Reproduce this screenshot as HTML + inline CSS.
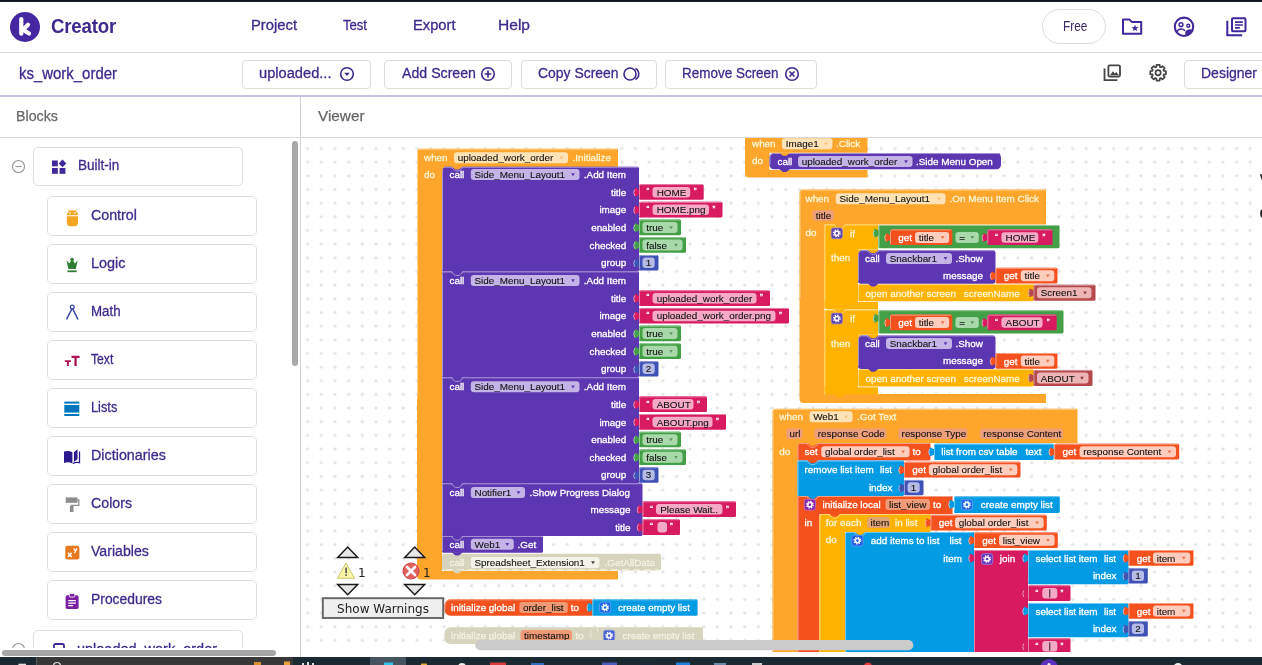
<!DOCTYPE html>
<html lang="en">
<head>
<meta charset="utf-8">
<title>Kodular Creator</title>
<style>
html,body{margin:0;padding:0}
body{width:1262px;height:665px;overflow:hidden;position:relative;background:#fff;font-family:"Liberation Sans",sans-serif;color:#4527A0}
.abs{position:absolute}
#topstrip{left:0;top:0;width:1262px;height:2px;background:linear-gradient(#0b0f15,#1d232c)}
#topstrip2{left:0;top:2px;width:1262px;height:1px;background:#9a9ea6}
#hdr{left:0;top:3px;width:1262px;height:49px;border-bottom:1px solid #dcdcdc;background:#fff}
#logo{left:10px;top:11.700px;width:30px;height:30px;border-radius:50%;background:#4527A0}
#brand{left:50.500px;top:14px;font-size:20px;font-weight:bold;color:#3f2a8c;letter-spacing:-.2px;line-height:24px}
.menu{top:16.4px;font-size:13.8px;line-height:20px;color:#3f2a8c;-webkit-text-stroke:.3px #3f2a8c}
#bar2{left:0;top:53px;width:1262px;height:41px;background:#fff}
#bar2b{left:0;top:94.800px;width:1262px;height:2px;background:#c5c1de;z-index:3}
.btn{top:59.5px;height:29px;border:1px solid #dedede;border-radius:4px;box-sizing:border-box;background:#fff;font-size:15.2px;line-height:28px;color:#3f2a8c;white-space:nowrap;-webkit-text-stroke:.3px #3f2a8c}
.btn span{position:absolute;top:-1.900px}
#proj{left:18.5px;top:62.600px;font-size:16.2px;line-height:20px;color:#3f2a8c;-webkit-text-stroke:.3px #3f2a8c}
#panehdr{left:0;top:96px;width:1262px;height:41px;border-bottom:1px solid #dadada;background:#fff}
#vdiv{left:300px;top:96px;width:1px;height:561px;background:#d2d2d2}
.ph{top:105.600px;font-size:15.2px;line-height:20px;color:#666;-webkit-text-stroke:.25px #666}
#side{left:0;top:138px;width:300px;height:510px;overflow:hidden}
.cat{position:absolute;left:47px;width:210px;height:39.4px;border:1px solid #dfdfdf;border-radius:5px;box-sizing:border-box;background:#fff}
.fit{display:inline-block;transform-origin:0 50%;white-space:nowrap}
.cat span{position:absolute;left:43px;top:7.500px;font-size:15.2px;line-height:20px;color:#3f2a8c;white-space:nowrap;-webkit-text-stroke:.3px #3f2a8c}
.cat svg{position:absolute;left:16px;top:11px}
#ws{left:301px;top:138px;width:961px;height:514px;overflow:hidden}
#task{left:0;top:656.800px;width:1262px;height:8.200px;background:#1b2933}
</style>
</head>
<body>
<div class="abs" id="hdr"></div>
<div class="abs" id="topstrip"></div>
<div class="abs" id="logo"><svg width="30" height="30" viewBox="10 11.700 30 30"><g fill="none" stroke="#fff" stroke-width="4.200" stroke-linecap="round" stroke-linejoin="round"><path d="M21.300,18.700 V33.400"/><path d="M28,24.500 L23,29.500 L29,33.300"/></g></svg></div>
<div class="abs" id="brand"><span class="fit" id="f_brand" style="transform:scaleX(0.9321)">Creator</span></div>
<div class="abs menu" style="left:251px"><span class="fit" id="f_project" style="transform:scaleX(1.0709)">Project</span></div>
<div class="abs menu" style="left:343px"><span class="fit" id="f_test" style="transform:scaleX(0.9481)">Test</span></div>
<div class="abs menu" style="left:413px"><span class="fit" id="f_export" style="transform:scaleX(1.0658)">Export</span></div>
<div class="abs menu" style="left:497.5px"><span class="fit" id="f_help" style="transform:scaleX(1.1271)">Help</span></div>
<div class="abs" style="left:1042.400px;top:9px;width:63.400px;height:35px;box-sizing:border-box;border:1px solid #dcdcdc;border-radius:18px;font-size:14.5px;line-height:33px;color:#3a2a6a"><span class="fit" id="f_free" style="position:absolute;left:19.6px;top:0;transform:scaleX(0.8180)">Free</span></div>
<!-- header icons -->
<svg class="abs" style="left:1116px;top:12px" width="140" height="30" viewBox="1116 12 140 30">
<path d="M1123,19.6 h6.6 l2.2,2.3 h9.4 v11.8 h-18.2 z" fill="none" stroke="#40289a" stroke-width="2" stroke-linejoin="round"/>
<polygon points="1135.00,24.60 1135.91,27.05 1138.52,27.16 1136.47,28.78 1137.17,31.29 1135.00,29.85 1132.83,31.29 1133.53,28.78 1131.48,27.16 1134.09,27.05" fill="#40289a"/>
<circle cx="1184" cy="26.8" r="9.2" fill="none" stroke="#40289a" stroke-width="2.1"/>
<circle cx="1181" cy="24.7" r="1.9" fill="none" stroke="#40289a" stroke-width="1.5"/>
<circle cx="1188.3" cy="25.7" r="1.5" fill="none" stroke="#40289a" stroke-width="1.4"/>
<path d="M1176.6,32.6 c1,-2.6 3,-3.5 4.6,-3.5 c1.400,0 2.800,.5 3.900,1.700" fill="none" stroke="#40289a" stroke-width="1.5"/>
<path d="M1185.300,36 v-4.200 c1.300,-2.600 4.800,-3.300 7.300,-2 c-.8,3 -3.500,5.600 -7.300,6.200 z" fill="#40289a"/>
<rect x="1232" y="18.300" width="13.500" height="13" rx="1" fill="none" stroke="#40289a" stroke-width="2"/>
<path d="M1235,22.100 h7.800 M1235,25 h7.800 M1235,27.900 h4.800" stroke="#40289a" stroke-width="1.600"/>
<path d="M1227.300,20.700 V35.300 H1242.200" fill="none" stroke="#40289a" stroke-width="2"/>
</svg>
<div class="abs" id="bar2"></div><div class="abs" id="bar2b"></div>
<div class="abs" id="proj"><span class="fit" id="f_proj" style="transform:scaleX(0.9230)">ks_work_order</span></div>
<div class="abs btn" style="left:242px;width:129px"><span class="fit" id="f_upl" style="left:16px;transform:scaleX(0.9645)">uploaded...</span><svg class="abs" style="left:96px;top:5px" width="16" height="16" viewBox="0 0 16 16"><circle cx="8" cy="8" r="6.3" fill="none" stroke="#3f2a8c" stroke-width="1.600"/><path d="M5.3,6.8 h5.4 l-2.7,3.2 z" fill="#3f2a8c"/></svg></div>
<div class="abs btn" style="left:384px;width:128px"><span class="fit" id="f_add" style="left:16.7px;transform:scaleX(0.9323)">Add Screen</span><svg class="abs" style="left:95px;top:5px" width="16" height="16" viewBox="0 0 16 16"><circle cx="8" cy="8" r="6.3" fill="none" stroke="#3f2a8c" stroke-width="1.600"/><path d="M8,4.6 v6.8 M4.6,8 h6.8" stroke="#3f2a8c" stroke-width="1.700"/></svg></div>
<div class="abs btn" style="left:521px;width:136px"><span class="fit" id="f_copy" style="left:16.4px;transform:scaleX(0.9180)">Copy Screen</span><svg class="abs" style="left:100px;top:5px" width="20" height="16" viewBox="0 0 20 16"><circle cx="8" cy="8" r="6" fill="none" stroke="#3f2a8c" stroke-width="1.600"/><path d="M13.400,2.500 a6.200,6.200 0 0 1 0,11" fill="none" stroke="#3f2a8c" stroke-width="1.600"/></svg></div>
<div class="abs btn" style="left:665px;width:152px"><span class="fit" id="f_rem" style="left:16.4px;transform:scaleX(0.8870)">Remove Screen</span><svg class="abs" style="left:118px;top:5px" width="16" height="16" viewBox="0 0 16 16"><circle cx="8" cy="8" r="6.3" fill="none" stroke="#3f2a8c" stroke-width="1.600"/><path d="M5.5,5.5 l5,5 M10.5,5.5 l-5,5" stroke="#3f2a8c" stroke-width="1.700"/></svg></div>
<svg class="abs" style="left:1100px;top:60px" width="70" height="26" viewBox="1100 60 70 26">
<rect x="1108.400" y="65.400" width="11.600" height="11.100" rx="1.200" fill="none" stroke="#454545" stroke-width="1.800"/>
<path d="M1110.200,74.900 l2.700,-3.700 1.900,2.400 1.400,-1.700 2.600,3 z" fill="#454545"/>
<path d="M1104.500,68.400 V80.200 H1117.400" fill="none" stroke="#454545" stroke-width="1.800"/>
<polygon points="1156.33,66.97 1156.51,64.86 1159.69,64.86 1159.87,66.97 1160.90,67.39 1162.52,66.03 1164.77,68.28 1163.41,69.90 1163.83,70.93 1165.94,71.11 1165.94,74.29 1163.83,74.47 1163.41,75.50 1164.77,77.12 1162.52,79.37 1160.90,78.01 1159.87,78.43 1159.69,80.54 1156.51,80.54 1156.33,78.43 1155.30,78.01 1153.68,79.37 1151.43,77.12 1152.79,75.50 1152.37,74.47 1150.26,74.29 1150.26,71.11 1152.37,70.93 1152.79,69.90 1151.43,68.28 1153.68,66.03 1155.30,67.39" fill="none" stroke="#454545" stroke-width="1.700" stroke-linejoin="round"/>
<circle cx="1158.100" cy="72.700" r="2.600" fill="none" stroke="#454545" stroke-width="1.700"/>
</svg>
<div class="abs btn" style="left:1184px;width:90px;border-radius:4px 0 0 4px"><span class="fit" id="f_des" style="left:16px;transform:scaleX(0.9213)">Designer</span></div>

<div class="abs" id="panehdr"></div>
<div class="abs ph" style="left:15.8px"><span class="fit" id="f_blocks" style="transform:scaleX(0.9389)">Blocks</span></div>
<div class="abs ph" style="left:318px"><span class="fit" id="f_viewer" style="transform:scaleX(1.0074)">Viewer</span></div>
<div class="abs" id="vdiv"></div>

<!-- sidebar -->
<div class="abs" id="side">
<svg class="abs" style="left:11px;top:21px" width="15" height="15" viewBox="0 0 15 15"><circle cx="7.5" cy="7.5" r="6" fill="none" stroke="#999" stroke-width="1.2"/><path d="M4.5,7.5 h6" stroke="#999" stroke-width="1.2"/></svg>
<div class="cat" style="left:33px;top:8.500px;width:210px"><svg style="left:17px;top:11px" width="16" height="16" viewBox="0 0 16 16"><rect x="1" y="1.5" width="5.8" height="5.8" fill="#40289a"/><rect x="1" y="9" width="5.8" height="5.8" fill="#40289a"/><rect x="8.6" y="9" width="5.8" height="5.8" fill="#40289a"/><path d="M11.5,.5 l3.8,3.9 -3.8,3.9 -3.8,-3.9 z" fill="#40289a"/></svg><span class="fit" id="f_builtin" style="left:43.6px;top:7.800px;transform:scaleX(0.8915)">Built-in</span></div>
<div class="cat" style="top:58.2px"><svg style="left:16px;top:11.7px" width="18" height="18" viewBox="0 0 18 18"><path d="M2.8,6.2 a5.6,5 0 0 1 11.2,0 z" fill="#F5A623"/><path d="M4.3,.4 l1.6,2.2 M12.5,.4 l-1.600,2.200" stroke="#F5A623" stroke-width="1"/><circle cx="6" cy="4.100" r=".8" fill="#fff"/><circle cx="10.800" cy="4.100" r=".8" fill="#fff"/><path d="M2.800,7.200 h11.200 v6.200 a3.800,3.800 0 0 1 -3.800,3.800 h-3.600 a3.800,3.800 0 0 1 -3.800,-3.800 z" fill="#F5A623"/></svg><span class="fit" id="f_cat0" style="transform:scaleX(0.9373)">Control</span></div>
<div class="cat" style="top:106.2px"><svg style="left:16px;top:11.5px" width="18" height="18" viewBox="0 0 18 18"><path d="M2.500,3.200 L5.300,6.400 L7.100,3.400 H9.100 L10.900,6.400 L13.700,3.200 L11.800,11.900 H4.400 Z" fill="#2E7D32"/><circle cx="8.100" cy="2.500" r="1.800" fill="#2E7D32"/><rect x="3.500" y="13.400" width="9.200" height="1.800" fill="#2E7D32"/></svg><span class="fit" id="f_cat1" style="transform:scaleX(0.9501)">Logic</span></div>
<div class="cat" style="top:154.2px"><svg style="left:16px;top:11px" width="18" height="18" viewBox="0 0 18 18"><path d="M8.300,4 L2.500,15.500 M8.300,4 L14,15.500" stroke="#3949AB" stroke-width="1.600" fill="none"/><circle cx="8.300" cy="3" r="1.900" fill="#fff" stroke="#3949AB" stroke-width="1.300"/></svg><span class="fit" id="f_cat2" style="transform:scaleX(0.8766)">Math</span></div>
<div class="cat" style="top:202.2px"><svg style="left:16px;top:13.9px" width="18" height="18" viewBox="0 0 18 18"><path d="M7.500,.8 h8.100 v2.300 h-2.900 v7.800 h-2.300 v-7.800 h-2.900 z M.8,5.200 h6.200 v1.900 h-2.100 v3.800 h-2 v-3.800 h-2.100 z" fill="#AD1457"/></svg><span class="fit" id="f_cat3" style="transform:scaleX(0.8004)">Text</span></div>
<div class="cat" style="top:250.2px"><svg style="left:16px;top:12px" width="18" height="18" viewBox="0 0 18 18"><rect x=".3" y=".6" width="15" height="2" fill="#0277BD"/><rect x=".3" y="4" width="15" height="7.600" fill="#0277BD"/><rect x=".3" y="13" width="15" height="2" fill="#0277BD"/></svg><span class="fit" id="f_cat4" style="transform:scaleX(0.8420)">Lists</span></div>
<div class="cat" style="top:298.2px"><svg style="left:16px;top:11.7px" width="18" height="18" viewBox="0 0 18 18"><path d="M0,2.600 c2.800,-1.100 5.800,-.8 8.400,.6 v11.300 c-2.600,-1.500 -5.600,-1.700 -8.400,-.600 z" fill="#2A1A8E"/><path d="M9.900,3.300 l3.600,-3 v9.600 l-3.600,3 z" fill="#2A1A8E"/><path d="M15.500,2.400 v11.300 c-2.300,-.5 -4.600,-.3 -6.600,.8" fill="none" stroke="#2A1A8E" stroke-width="1.300"/></svg><span class="fit" id="f_cat5" style="transform:scaleX(0.9440)">Dictionaries</span></div>
<div class="cat" style="top:346.2px"><svg style="left:16px;top:12px" width="18" height="18" viewBox="0 0 18 18"><rect x="1.700" y=".4" width="11.800" height="5.400" fill="#8c8c8c"/><path d="M13.500,3 h1.300 v5.400 h-7.200 v1.500" stroke="#8c8c8c" stroke-width="1.300" fill="none"/><rect x="5.900" y="8.700" width="3.600" height="6.300" fill="#8c8c8c"/></svg><span class="fit" id="f_cat6" style="transform:scaleX(0.9341)">Colors</span></div>
<div class="cat" style="top:394.2px"><svg style="left:16px;top:12px" width="18" height="18" viewBox="0 0 18 18"><rect x="1.300" y=".8" width="14.100" height="13.800" rx="2" fill="#E67A22"/><path d="M4,7.800 l3.600,4.200 M7.600,7.800 l-3.600,4.200" stroke="#fff" stroke-width="1.500"/><path d="M9.800,3.400 l1.500,2.600 M13,3.400 l-2.600,4.800" stroke="#fff" stroke-width="1.200"/></svg><span class="fit" id="f_cat7" style="transform:scaleX(0.9292)">Variables</span></div>
<div class="cat" style="top:442.2px"><svg style="left:16px;top:11.5px" width="18" height="18" viewBox="0 0 18 18"><rect x="1.600" y="2.300" width="13" height="13.600" rx="1.600" fill="#7B1FA2"/><rect x="5.300" y=".5" width="5.600" height="3.600" rx="1.200" fill="#7B1FA2" stroke="#fff" stroke-width=".9"/><path d="M4.300,7.600 h7.600 M4.300,10.100 h7.600 M4.300,12.600 h4.800" stroke="#fff" stroke-width="1.300"/></svg><span class="fit" id="f_cat8" style="transform:scaleX(0.9141)">Procedures</span></div>

<svg class="abs" style="left:11px;top:504.300px" width="15" height="15" viewBox="0 0 15 15"><circle cx="7.5" cy="7.5" r="6" fill="none" stroke="#999" stroke-width="1.2"/></svg>
<div class="cat" style="left:33px;top:492px;width:210px"><svg style="left:18px;top:12px" width="14" height="16" viewBox="0 0 14 16"><rect x="2" y="1" width="10" height="15" rx="1.5" fill="none" stroke="#40289a" stroke-width="1.8"/></svg><span class="fit" id="f_uwo" style="left:43px;top:7.500px;transform:scaleX(0.9529)">uploaded_work_order</span></div>
</div>
<div class="abs" style="left:292px;top:141px;width:6px;height:224.800px;border-radius:3px;background:#a8a8a8"></div>
<div class="abs" style="left:2px;top:650px;width:274px;height:6px;border-radius:3px;background:#a6a6a6"></div>

<!-- workspace -->
<div class="abs" id="ws">
<svg width="961" height="514" viewBox="301 138 961 514" style="position:absolute;left:0;top:0" font-family='"Liberation Sans", sans-serif' font-size="9.9">
<defs><pattern id="grid" x="300.83" y="141.72" width="13.66" height="13.66" patternUnits="userSpaceOnUse"><path d="M5.03,6.83 h3.6 M6.83,5.03 v3.6" stroke="#dcdcdc" stroke-width="1" fill="none"/></pattern></defs>
<rect x="301" y="138" width="961" height="514" fill="url(#grid)"/>
<path d="M417,152.7 a4,4 0 0 1 4,-4 H618 V167.5 H442 V571 H618 V579.5 H421 a4,4 0 0 1 -4,-4 Z" fill="#FEA62B"/>
<path d="M417.5,398.5 V150.7 Q417.5,149.2 419,149.2 H617" stroke="#FECE8A" fill="none" stroke-width="1"/>
<text x="424" y="161" fill="#FFF6D5" stroke="#FFF6D5" stroke-width=".28">when</text>
<rect x="454" y="152.2" width="114" height="11" rx="3" fill="#FFE3B8"/>
<text x="457.7" y="161.2" fill="#111" stroke="#111" stroke-width=".1">uploaded_work_order</text>
<path d="M559.6,156.4 h3.8 l-1.9,3 z" fill="#F7C377"/>
<text x="572.5" y="161" fill="#FFF6D5" stroke="#FFF6D5" stroke-width=".28">.Initialize</text>
<text x="424" y="178" fill="#FFF6D5" stroke="#FFF6D5" stroke-width=".28">do</text>
<rect x="442" y="166.8" width="197" height="104.6" rx="1.5" fill="#5C37B1"/>
<path d="M442.5,269.9 V168.8 Q442.5,167.3 444,167.3 H638" stroke="#A591D4" fill="none" stroke-width="1"/>
<path d="M451,167.3 l4.3,3.6 h3.8 l4.3,-3.6" stroke="#A591D4" fill="none" stroke-width="1"/>
<path d="M441.8,166.6 h4.7 a4.5,4.5 0 0 0 -4.5,4.5 v-4.5 z" fill="#FEA62B"/>
<text x="449.5" y="178" fill="#fff" stroke="#fff" stroke-width=".28">call</text>
<rect x="470.8" y="169" width="108.7" height="11" rx="3" fill="#C3B3E6"/>
<text x="474.5" y="178" fill="#111" stroke="#111" stroke-width=".1">Side_Menu_Layout1</text>
<path d="M571.1,173.2 h3.8 l-1.9,3 z" fill="#5C37B1"/>
<text x="583.8" y="178" fill="#fff" stroke="#fff" stroke-width=".28">.Add Item</text>
<text x="626.3" y="195.65" fill="#fff" stroke="#fff" stroke-width=".28" text-anchor="end">title</text>
<text x="626.3" y="213.3" fill="#fff" stroke="#fff" stroke-width=".28" text-anchor="end">image</text>
<text x="626.3" y="230.95" fill="#fff" stroke="#fff" stroke-width=".28" text-anchor="end">enabled</text>
<text x="626.3" y="248.6" fill="#fff" stroke="#fff" stroke-width=".28" text-anchor="end">checked</text>
<text x="626.3" y="266.25" fill="#fff" stroke="#fff" stroke-width=".28" text-anchor="end">group</text>
<path d="M639.5,187.35 c0,6.6 -5.3,-5.3 -5.3,4.9 s5.3,-1.6 5.3,4.9 z" fill="#D81B60"/>
<path d="M634.8,189.35 q-2.2,3 0,6.5" stroke="#ED98B7" fill="none" stroke-width="1"/>
<rect x="639" y="184.15" width="64.7" height="15.7" rx="1.5" fill="#D81B60"/>
<path d="M639.5,198.35 V186.15 Q639.5,184.65 641,184.65 H702.7" stroke="#E981A7" fill="none" stroke-width="1"/>
<text x="646.6" y="194.35" fill="#fff" stroke="#fff" stroke-width=".28" font-size="8.5">“</text>
<text x="693.7" y="194.35" fill="#fff" stroke="#fff" stroke-width=".28" font-size="8.5">”</text>
<rect x="652.5" y="186.9" width="37.7" height="10.5" rx="3" fill="#F4A9C4"/>
<text x="656.7" y="195.65" fill="#111" stroke="#111" stroke-width=".1">HOME</text>
<path d="M639.5,205 c0,6.6 -5.3,-5.3 -5.3,4.9 s5.3,-1.6 5.3,4.9 z" fill="#D81B60"/>
<path d="M634.8,207 q-2.2,3 0,6.5" stroke="#ED98B7" fill="none" stroke-width="1"/>
<rect x="639" y="201.8" width="83.5" height="15.7" rx="1.5" fill="#D81B60"/>
<path d="M639.5,216 V203.8 Q639.5,202.3 641,202.3 H721.5" stroke="#E981A7" fill="none" stroke-width="1"/>
<text x="646.6" y="212" fill="#fff" stroke="#fff" stroke-width=".28" font-size="8.5">“</text>
<text x="712.5" y="212" fill="#fff" stroke="#fff" stroke-width=".28" font-size="8.5">”</text>
<rect x="652.5" y="204.55" width="56.5" height="10.5" rx="3" fill="#F4A9C4"/>
<text x="656.7" y="213.3" fill="#111" stroke="#111" stroke-width=".1">HOME.png</text>
<path d="M639.5,222.65 c0,6.6 -5.3,-5.3 -5.3,4.9 s5.3,-1.6 5.3,4.9 z" fill="#43A047"/>
<path d="M634.8,224.65 q-2.2,3 0,6.5" stroke="#AAD4AC" fill="none" stroke-width="1"/>
<rect x="639" y="219.45" width="42" height="15.7" rx="1.5" fill="#43A047"/>
<path d="M639.5,233.65 V221.45 Q639.5,219.95 641,219.95 H680" stroke="#97CA99" fill="none" stroke-width="1"/>
<rect x="642.5" y="221.95" width="35" height="11" rx="3" fill="#A9D9AB"/>
<text x="646.2" y="230.95" fill="#111" stroke="#111" stroke-width=".1">true</text>
<path d="M669.1,226.15 h3.8 l-1.9,3 z" fill="#5E9C61"/>
<path d="M639.5,240.3 c0,6.6 -5.3,-5.3 -5.3,4.9 s5.3,-1.6 5.3,4.9 z" fill="#43A047"/>
<path d="M634.8,242.3 q-2.2,3 0,6.5" stroke="#AAD4AC" fill="none" stroke-width="1"/>
<rect x="639" y="237.1" width="47" height="15.7" rx="1.5" fill="#43A047"/>
<path d="M639.5,251.3 V239.1 Q639.5,237.6 641,237.6 H685" stroke="#97CA99" fill="none" stroke-width="1"/>
<rect x="642.5" y="239.6" width="40" height="11" rx="3" fill="#A9D9AB"/>
<text x="646.2" y="248.6" fill="#111" stroke="#111" stroke-width=".1">false</text>
<path d="M674.1,243.8 h3.8 l-1.9,3 z" fill="#5E9C61"/>
<path d="M639.5,258.25 c0,6.6 -5.3,-5.3 -5.3,4.9 s5.3,-1.6 5.3,4.9 z" fill="#3F51B5"/>
<path d="M634.8,260.25 q-2.2,3 0,6.5" stroke="#A8B0DD" fill="none" stroke-width="1"/>
<rect x="639" y="255.05" width="19.5" height="15.4" rx="1.5" fill="#3F51B5"/>
<path d="M639.5,268.95 V257.05 Q639.5,255.55 641,255.55 H657.5" stroke="#959FD6" fill="none" stroke-width="1"/>
<rect x="642.5" y="257.5" width="12.2" height="10.5" rx="3" fill="#B4BBE6"/>
<text x="648.6" y="266.25" fill="#111" stroke="#111" stroke-width=".1" text-anchor="middle">1</text>
<rect x="442" y="271.4" width="197" height="105.9" rx="1.5" fill="#5C37B1"/>
<path d="M442.5,375.8 V273.4 Q442.5,271.9 444,271.9 H638" stroke="#A591D4" fill="none" stroke-width="1"/>
<path d="M451,271.9 l4.3,3.6 h3.8 l4.3,-3.6" stroke="#A591D4" fill="none" stroke-width="1"/>
<text x="449.5" y="284.1" fill="#fff" stroke="#fff" stroke-width=".28">call</text>
<rect x="470.8" y="275.1" width="108.7" height="11" rx="3" fill="#C3B3E6"/>
<text x="474.5" y="284.1" fill="#111" stroke="#111" stroke-width=".1">Side_Menu_Layout1</text>
<path d="M571.1,279.3 h3.8 l-1.9,3 z" fill="#5C37B1"/>
<text x="583.8" y="284.1" fill="#fff" stroke="#fff" stroke-width=".28">.Add Item</text>
<text x="626.3" y="301.75" fill="#fff" stroke="#fff" stroke-width=".28" text-anchor="end">title</text>
<text x="626.3" y="319.4" fill="#fff" stroke="#fff" stroke-width=".28" text-anchor="end">image</text>
<text x="626.3" y="337.05" fill="#fff" stroke="#fff" stroke-width=".28" text-anchor="end">enabled</text>
<text x="626.3" y="354.7" fill="#fff" stroke="#fff" stroke-width=".28" text-anchor="end">checked</text>
<text x="626.3" y="372.35" fill="#fff" stroke="#fff" stroke-width=".28" text-anchor="end">group</text>
<path d="M639.5,293.45 c0,6.6 -5.3,-5.3 -5.3,4.9 s5.3,-1.6 5.3,4.9 z" fill="#D81B60"/>
<path d="M634.8,295.45 q-2.2,3 0,6.5" stroke="#ED98B7" fill="none" stroke-width="1"/>
<rect x="639" y="290.25" width="131" height="15.7" rx="1.5" fill="#D81B60"/>
<path d="M639.5,304.45 V292.25 Q639.5,290.75 641,290.75 H769" stroke="#E981A7" fill="none" stroke-width="1"/>
<text x="646.6" y="300.45" fill="#fff" stroke="#fff" stroke-width=".28" font-size="8.5">“</text>
<text x="760" y="300.45" fill="#fff" stroke="#fff" stroke-width=".28" font-size="8.5">”</text>
<rect x="652.5" y="293" width="104" height="10.5" rx="3" fill="#F4A9C4"/>
<text x="656.7" y="301.75" fill="#111" stroke="#111" stroke-width=".1">uploaded_work_order</text>
<path d="M639.5,311.1 c0,6.6 -5.3,-5.3 -5.3,4.9 s5.3,-1.6 5.3,4.9 z" fill="#D81B60"/>
<path d="M634.8,313.1 q-2.2,3 0,6.5" stroke="#ED98B7" fill="none" stroke-width="1"/>
<rect x="639" y="307.9" width="150" height="15.7" rx="1.5" fill="#D81B60"/>
<path d="M639.5,322.1 V309.9 Q639.5,308.4 641,308.4 H788" stroke="#E981A7" fill="none" stroke-width="1"/>
<text x="646.6" y="318.1" fill="#fff" stroke="#fff" stroke-width=".28" font-size="8.5">“</text>
<text x="779" y="318.1" fill="#fff" stroke="#fff" stroke-width=".28" font-size="8.5">”</text>
<rect x="652.5" y="310.65" width="123" height="10.5" rx="3" fill="#F4A9C4"/>
<text x="656.7" y="319.4" fill="#111" stroke="#111" stroke-width=".1">uploaded_work_order.png</text>
<path d="M639.5,328.75 c0,6.6 -5.3,-5.3 -5.3,4.9 s5.3,-1.6 5.3,4.9 z" fill="#43A047"/>
<path d="M634.8,330.75 q-2.2,3 0,6.5" stroke="#AAD4AC" fill="none" stroke-width="1"/>
<rect x="639" y="325.55" width="42" height="15.7" rx="1.5" fill="#43A047"/>
<path d="M639.5,339.75 V327.55 Q639.5,326.05 641,326.05 H680" stroke="#97CA99" fill="none" stroke-width="1"/>
<rect x="642.5" y="328.05" width="35" height="11" rx="3" fill="#A9D9AB"/>
<text x="646.2" y="337.05" fill="#111" stroke="#111" stroke-width=".1">true</text>
<path d="M669.1,332.25 h3.8 l-1.9,3 z" fill="#5E9C61"/>
<path d="M639.5,346.4 c0,6.6 -5.3,-5.3 -5.3,4.9 s5.3,-1.6 5.3,4.9 z" fill="#43A047"/>
<path d="M634.8,348.4 q-2.2,3 0,6.5" stroke="#AAD4AC" fill="none" stroke-width="1"/>
<rect x="639" y="343.2" width="42" height="15.7" rx="1.5" fill="#43A047"/>
<path d="M639.5,357.4 V345.2 Q639.5,343.7 641,343.7 H680" stroke="#97CA99" fill="none" stroke-width="1"/>
<rect x="642.5" y="345.7" width="35" height="11" rx="3" fill="#A9D9AB"/>
<text x="646.2" y="354.7" fill="#111" stroke="#111" stroke-width=".1">true</text>
<path d="M669.1,349.9 h3.8 l-1.9,3 z" fill="#5E9C61"/>
<path d="M639.5,364.35 c0,6.6 -5.3,-5.3 -5.3,4.9 s5.3,-1.6 5.3,4.9 z" fill="#3F51B5"/>
<path d="M634.8,366.35 q-2.2,3 0,6.5" stroke="#A8B0DD" fill="none" stroke-width="1"/>
<rect x="639" y="361.15" width="19.5" height="15.4" rx="1.5" fill="#3F51B5"/>
<path d="M639.5,375.05 V363.15 Q639.5,361.65 641,361.65 H657.5" stroke="#959FD6" fill="none" stroke-width="1"/>
<rect x="642.5" y="363.6" width="12.2" height="10.5" rx="3" fill="#B4BBE6"/>
<text x="648.6" y="372.35" fill="#111" stroke="#111" stroke-width=".1" text-anchor="middle">2</text>
<rect x="442" y="377.3" width="197" height="106" rx="1.5" fill="#5C37B1"/>
<path d="M442.5,481.8 V379.3 Q442.5,377.8 444,377.8 H638" stroke="#A591D4" fill="none" stroke-width="1"/>
<path d="M451,377.8 l4.3,3.6 h3.8 l4.3,-3.6" stroke="#A591D4" fill="none" stroke-width="1"/>
<text x="449.5" y="390.2" fill="#fff" stroke="#fff" stroke-width=".28">call</text>
<rect x="470.8" y="381.2" width="108.7" height="11" rx="3" fill="#C3B3E6"/>
<text x="474.5" y="390.2" fill="#111" stroke="#111" stroke-width=".1">Side_Menu_Layout1</text>
<path d="M571.1,385.4 h3.8 l-1.9,3 z" fill="#5C37B1"/>
<text x="583.8" y="390.2" fill="#fff" stroke="#fff" stroke-width=".28">.Add Item</text>
<text x="626.3" y="407.85" fill="#fff" stroke="#fff" stroke-width=".28" text-anchor="end">title</text>
<text x="626.3" y="425.5" fill="#fff" stroke="#fff" stroke-width=".28" text-anchor="end">image</text>
<text x="626.3" y="443.15" fill="#fff" stroke="#fff" stroke-width=".28" text-anchor="end">enabled</text>
<text x="626.3" y="460.8" fill="#fff" stroke="#fff" stroke-width=".28" text-anchor="end">checked</text>
<text x="626.3" y="478.45" fill="#fff" stroke="#fff" stroke-width=".28" text-anchor="end">group</text>
<path d="M639.5,399.55 c0,6.6 -5.3,-5.3 -5.3,4.9 s5.3,-1.6 5.3,4.9 z" fill="#D81B60"/>
<path d="M634.8,401.55 q-2.2,3 0,6.5" stroke="#ED98B7" fill="none" stroke-width="1"/>
<rect x="639" y="396.35" width="68" height="15.7" rx="1.5" fill="#D81B60"/>
<path d="M639.5,410.55 V398.35 Q639.5,396.85 641,396.85 H706" stroke="#E981A7" fill="none" stroke-width="1"/>
<text x="646.6" y="406.55" fill="#fff" stroke="#fff" stroke-width=".28" font-size="8.5">“</text>
<text x="697" y="406.55" fill="#fff" stroke="#fff" stroke-width=".28" font-size="8.5">”</text>
<rect x="652.5" y="399.1" width="41" height="10.5" rx="3" fill="#F4A9C4"/>
<text x="656.7" y="407.85" fill="#111" stroke="#111" stroke-width=".1">ABOUT</text>
<path d="M639.5,417.2 c0,6.6 -5.3,-5.3 -5.3,4.9 s5.3,-1.6 5.3,4.9 z" fill="#D81B60"/>
<path d="M634.8,419.2 q-2.2,3 0,6.5" stroke="#ED98B7" fill="none" stroke-width="1"/>
<rect x="639" y="414" width="87" height="15.7" rx="1.5" fill="#D81B60"/>
<path d="M639.5,428.2 V416 Q639.5,414.5 641,414.5 H725" stroke="#E981A7" fill="none" stroke-width="1"/>
<text x="646.6" y="424.2" fill="#fff" stroke="#fff" stroke-width=".28" font-size="8.5">“</text>
<text x="716" y="424.2" fill="#fff" stroke="#fff" stroke-width=".28" font-size="8.5">”</text>
<rect x="652.5" y="416.75" width="60" height="10.5" rx="3" fill="#F4A9C4"/>
<text x="656.7" y="425.5" fill="#111" stroke="#111" stroke-width=".1">ABOUT.png</text>
<path d="M639.5,434.85 c0,6.6 -5.3,-5.3 -5.3,4.9 s5.3,-1.6 5.3,4.9 z" fill="#43A047"/>
<path d="M634.8,436.85 q-2.2,3 0,6.5" stroke="#AAD4AC" fill="none" stroke-width="1"/>
<rect x="639" y="431.65" width="42" height="15.7" rx="1.5" fill="#43A047"/>
<path d="M639.5,445.85 V433.65 Q639.5,432.15 641,432.15 H680" stroke="#97CA99" fill="none" stroke-width="1"/>
<rect x="642.5" y="434.15" width="35" height="11" rx="3" fill="#A9D9AB"/>
<text x="646.2" y="443.15" fill="#111" stroke="#111" stroke-width=".1">true</text>
<path d="M669.1,438.35 h3.8 l-1.9,3 z" fill="#5E9C61"/>
<path d="M639.5,452.5 c0,6.6 -5.3,-5.3 -5.3,4.9 s5.3,-1.6 5.3,4.9 z" fill="#43A047"/>
<path d="M634.8,454.5 q-2.2,3 0,6.5" stroke="#AAD4AC" fill="none" stroke-width="1"/>
<rect x="639" y="449.3" width="47" height="15.7" rx="1.5" fill="#43A047"/>
<path d="M639.5,463.5 V451.3 Q639.5,449.8 641,449.8 H685" stroke="#97CA99" fill="none" stroke-width="1"/>
<rect x="642.5" y="451.8" width="40" height="11" rx="3" fill="#A9D9AB"/>
<text x="646.2" y="460.8" fill="#111" stroke="#111" stroke-width=".1">false</text>
<path d="M674.1,456 h3.8 l-1.9,3 z" fill="#5E9C61"/>
<path d="M639.5,470.45 c0,6.6 -5.3,-5.3 -5.3,4.9 s5.3,-1.6 5.3,4.9 z" fill="#3F51B5"/>
<path d="M634.8,472.45 q-2.2,3 0,6.5" stroke="#A8B0DD" fill="none" stroke-width="1"/>
<rect x="639" y="467.25" width="19.5" height="15.4" rx="1.5" fill="#3F51B5"/>
<path d="M639.5,481.15 V469.25 Q639.5,467.75 641,467.75 H657.5" stroke="#959FD6" fill="none" stroke-width="1"/>
<rect x="642.5" y="469.7" width="12.2" height="10.5" rx="3" fill="#B4BBE6"/>
<text x="648.6" y="478.45" fill="#111" stroke="#111" stroke-width=".1" text-anchor="middle">3</text>
<rect x="442" y="483.3" width="200.5" height="52.7" rx="1.5" fill="#5C37B1"/>
<path d="M442.5,534.5 V485.3 Q442.5,483.8 444,483.8 H641.5" stroke="#A591D4" fill="none" stroke-width="1"/>
<path d="M451,483.8 l4.3,3.6 h3.8 l4.3,-3.6" stroke="#A591D4" fill="none" stroke-width="1"/>
<text x="449.5" y="496" fill="#fff" stroke="#fff" stroke-width=".28">call</text>
<rect x="470.8" y="487" width="54.2" height="11" rx="3" fill="#C3B3E6"/>
<text x="474.5" y="496" fill="#111" stroke="#111" stroke-width=".1">Notifier1</text>
<path d="M516.6,491.2 h3.8 l-1.9,3 z" fill="#5C37B1"/>
<text x="529.5" y="496" fill="#fff" stroke="#fff" stroke-width=".28">.Show Progress Dialog</text>
<text x="630.5" y="513" fill="#fff" stroke="#fff" stroke-width=".28" text-anchor="end">message</text>
<text x="630.5" y="531" fill="#fff" stroke="#fff" stroke-width=".28" text-anchor="end">title</text>
<path d="M643,504.5 c0,6.6 -5.3,-5.3 -5.3,4.9 s5.3,-1.6 5.3,4.9 z" fill="#D81B60"/>
<path d="M638.3,506.5 q-2.2,3 0,6.5" stroke="#ED98B7" fill="none" stroke-width="1"/>
<rect x="642.5" y="501.3" width="93.5" height="15.7" rx="1.5" fill="#D81B60"/>
<path d="M643,515.5 V503.3 Q643,501.8 644.5,501.8 H735" stroke="#E981A7" fill="none" stroke-width="1"/>
<text x="650.1" y="511.5" fill="#fff" stroke="#fff" stroke-width=".28" font-size="8.5">“</text>
<text x="726" y="511.5" fill="#fff" stroke="#fff" stroke-width=".28" font-size="8.5">”</text>
<rect x="656" y="504.05" width="66.5" height="10.5" rx="3" fill="#F4A9C4"/>
<text x="660.2" y="512.8" fill="#111" stroke="#111" stroke-width=".1">Please Wait..</text>
<path d="M643,522.4 c0,6.6 -5.3,-5.3 -5.3,4.9 s5.3,-1.6 5.3,4.9 z" fill="#D81B60"/>
<path d="M638.3,524.4 q-2.2,3 0,6.5" stroke="#ED98B7" fill="none" stroke-width="1"/>
<rect x="642.5" y="519.2" width="37.5" height="15.7" rx="1.5" fill="#D81B60"/>
<path d="M643,533.4 V521.2 Q643,519.7 644.5,519.7 H679" stroke="#E981A7" fill="none" stroke-width="1"/>
<text x="650.1" y="529.4" fill="#fff" stroke="#fff" stroke-width=".28" font-size="8.5">“</text>
<text x="670" y="529.4" fill="#fff" stroke="#fff" stroke-width=".28" font-size="8.5">”</text>
<rect x="657.5" y="521.95" width="9.5" height="10.5" rx="3" fill="#F4A9C4"/>
<rect x="442" y="536" width="101" height="16.7" rx="1.5" fill="#5C37B1"/>
<path d="M442.5,551.2 V538 Q442.5,536.5 444,536.5 H542" stroke="#A591D4" fill="none" stroke-width="1"/>
<path d="M451,536.5 l4.3,3.6 h3.8 l4.3,-3.6" stroke="#A591D4" fill="none" stroke-width="1"/>
<text x="449.5" y="547.8" fill="#fff" stroke="#fff" stroke-width=".28">call</text>
<rect x="470.8" y="538.8" width="43" height="11" rx="3" fill="#C3B3E6"/>
<text x="474.5" y="547.8" fill="#111" stroke="#111" stroke-width=".1">Web1</text>
<path d="M505.4,543 h3.8 l-1.9,3 z" fill="#5C37B1"/>
<text x="517.5" y="547.8" fill="#fff" stroke="#fff" stroke-width=".28">.Get</text>
<rect x="442" y="553.8" width="219" height="16.7" rx="2" fill="#D6D4BC"/>
<path d="M446,570 H660" stroke="#F1EFE0" stroke-width="1.6" stroke-dasharray="7 4"/>
<text x="449.5" y="566" fill="#F3F1E4" stroke="#F3F1E4" stroke-width=".28">call</text>
<rect x="470.8" y="557" width="128.7" height="11" rx="3" fill="#F4F3EA"/>
<text x="474.5" y="566" fill="#111" stroke="#111" stroke-width=".1">Spreadsheet_Extension1</text>
<path d="M591.1,561.2 h3.8 l-1.9,3 z" fill="#444"/>
<text x="604.5" y="566" fill="#F3F1E4" stroke="#F3F1E4" stroke-width=".28">.GetAllData</text>
<path d="M451.5,166.3 l4,3.3 h3.4 l4,-3.3 z" fill="#FEA62B"/>
<path d="M451.5,270.9 l4,3.3 h3.4 l4,-3.3 z" fill="#5C37B1"/>
<path d="M451.5,376.8 l4,3.3 h3.4 l4,-3.3 z" fill="#5C37B1"/>
<path d="M451.5,482.8 l4,3.3 h3.4 l4,-3.3 z" fill="#5C37B1"/>
<path d="M451.5,535.5 l4,3.3 h3.4 l4,-3.3 z" fill="#5C37B1"/>
<path d="M451.5,552.2 l4,3.3 h3.4 l4,-3.3 z" fill="#5C37B1"/>
<path d="M451.5,570 l4,3.3 h3.4 l4,-3.3 z" fill="#D6D4BC"/>
<path d="M450.5,599.3 H592.3 V615.8 H450.5 a6,6 0 0 1 -6,-6 v-4.5 a6,6 0 0 1 6,-6 z" fill="#F4511E"/>
<path d="M445,609 v-4 a5.500,5.500 0 0 1 5.500,-5.200 H592" stroke="#F89F83" fill="none"/>
<text x="451" y="611" fill="#fff" stroke="#fff" stroke-width=".28">initialize global</text>
<rect x="519.4" y="602" width="48.4" height="11" rx="3" fill="#EE9A76"/>
<text x="523" y="611" fill="#111" stroke="#111" stroke-width=".1">order_list</text>
<text x="570.8" y="611" fill="#fff" stroke="#fff" stroke-width=".28">to</text>
<path d="M592.8,602.5 c0,6.6 -5.3,-5.3 -5.3,4.9 s5.3,-1.6 5.3,4.9 z" fill="#049BE5"/>
<path d="M588.1,604.5 q-2.2,3 0,6.5" stroke="#8ED2F3" fill="none" stroke-width="1"/>
<rect x="592.3" y="599.3" width="105.3" height="16.5" rx="1.5" fill="#049BE5"/>
<path d="M592.8,614.3 V601.3 Q592.8,599.8 594.3,599.8 H696.6" stroke="#74C8F0" fill="none" stroke-width="1"/>
<rect x="599.5" y="602.1" width="11.2" height="10.8" rx="2.2" fill="#1E6BE6" stroke="#6C9EEE" stroke-width=".8"/>
<circle cx="605.1" cy="607.5" r="2.1" fill="none" stroke="#fff" stroke-width="1.5"/>
<circle cx="605.1" cy="607.5" r="3.3" fill="none" stroke="#fff" stroke-width="1.3" stroke-dasharray="1.3 1.29"/>
<text x="618" y="611" fill="#fff" stroke="#fff" stroke-width=".28">create empty list</text>
<path d="M450.5,627.2 H703 V644 H450.5 a6,6 0 0 1 -6,-6 v-4.800 a6,6 0 0 1 6,-6 z" fill="#D6D4BC"/>
<text x="451" y="639.1" fill="#F3F1E4" stroke="#F3F1E4" stroke-width=".28">initialize global</text>
<rect x="520.5" y="630.1" width="51.5" height="11" rx="3" fill="#EE9A76"/>
<text x="524" y="639.1" fill="#111" stroke="#111" stroke-width=".1">timestamp</text>
<text x="575.5" y="639.1" fill="#F3F1E4" stroke="#F3F1E4" stroke-width=".28">to</text>
<path d="M591.500,631 q-2.200,3.500 0,7 M597.500,628 v4 M597.500,640 v3" stroke="#EEECDD" fill="none" stroke-width="1"/>
<rect x="603.5" y="630.2" width="11.2" height="10.8" rx="2.2" fill="#4A5FD0" stroke="#8997E0" stroke-width=".8"/>
<circle cx="609.1" cy="635.6" r="2.1" fill="none" stroke="#fff" stroke-width="1.5"/>
<circle cx="609.1" cy="635.6" r="3.3" fill="none" stroke="#fff" stroke-width="1.3" stroke-dasharray="1.3 1.29"/>
<text x="622.5" y="639.1" fill="#F3F1E4" stroke="#F3F1E4" stroke-width=".28">create empty list</text>
<path d="M745,134 H867.5 V152.7 H769.5 V170 H867.5 V177.5 H749 a4,4 0 0 1 -4,-4 Z" fill="#FEA62B"/>
<text x="752" y="147.3" fill="#FFF6D5" stroke="#FFF6D5" stroke-width=".28">when</text>
<rect x="782" y="138.3" width="50.5" height="11" rx="3" fill="#FFE3B8"/>
<text x="785.7" y="147.3" fill="#111" stroke="#111" stroke-width=".1">Image1</text>
<path d="M824.1,142.5 h3.8 l-1.9,3 z" fill="#F7C377"/>
<text x="836" y="147.3" fill="#FFF6D5" stroke="#FFF6D5" stroke-width=".28">.Click</text>
<text x="752" y="164" fill="#FFF6D5" stroke="#FFF6D5" stroke-width=".28">do</text>
<rect x="769.5" y="153" width="231.5" height="16.3" rx="4.5" fill="#5C37B1"/>
<path d="M770,164.8 V158 Q770,153.5 774.5,153.5 H1000" stroke="#A591D4" fill="none" stroke-width="1"/>
<text x="777.5" y="165" fill="#fff" stroke="#fff" stroke-width=".28">call</text>
<rect x="798" y="156" width="114.5" height="11" rx="3" fill="#C3B3E6"/>
<text x="801.7" y="165" fill="#111" stroke="#111" stroke-width=".1">uploaded_work_order</text>
<path d="M904.1,160.2 h3.8 l-1.9,3 z" fill="#5C37B1"/>
<text x="916" y="165" fill="#fff" stroke="#fff" stroke-width=".28">.Side Menu Open</text>
<path d="M779,168.8 l4,3.3 h3.4 l4,-3.3 z" fill="#5C37B1"/>
<path d="M779,152.5 l4,3.3 h3.4 l4,-3.3 z" fill="#FEA62B"/>
<path d="M799.5,193.5 a4,4 0 0 1 4,-4 H1046 V224.5 H824.5 V394 H1046 V403 H803.5 a4,4 0 0 1 -4,-4 Z" fill="#FEA62B"/>
<path d="M800,298.5 V191.5 Q800,190 801.5,190 H1045" stroke="#FECE8A" fill="none" stroke-width="1"/>
<text x="805.5" y="202.3" fill="#FFF6D5" stroke="#FFF6D5" stroke-width=".28">when</text>
<rect x="835.8" y="193.3" width="109.7" height="11" rx="3" fill="#FFE3B8"/>
<text x="839.5" y="202.3" fill="#111" stroke="#111" stroke-width=".1">Side_Menu_Layout1</text>
<path d="M937.1,197.5 h3.8 l-1.9,3 z" fill="#F7C377"/>
<text x="949.5" y="202.3" fill="#FFF6D5" stroke="#FFF6D5" stroke-width=".28">.On Menu Item Click</text>
<rect x="812.5" y="210.35" width="21.3" height="10.5" rx="3" fill="#EE9F7C"/>
<text x="815.8" y="219.1" fill="#111" stroke="#111" stroke-width=".1">title</text>
<text x="805.5" y="236" fill="#FFF6D5" stroke="#FFF6D5" stroke-width=".28">do</text>
<path d="M824.5,227.5 a3,3 0 0 1 3,-3 H878 V249.5 H858 V302 H878 V309.3 H827.5 a3,3 0 0 1 -3,-3 Z" fill="#FFB300"/>
<path d="M825,300.5 V226.5 Q825,225 826.5,225 H877" stroke="#FFD572" fill="none" stroke-width="1"/>
<path d="M833.5,225 l4.3,3.6 h3.8 l4.3,-3.6" stroke="#FFD572" fill="none" stroke-width="1"/>
<rect x="831.2" y="227.9" width="11.2" height="10.8" rx="2.2" fill="#5F45B0" stroke="#9786CB" stroke-width=".8"/>
<circle cx="836.8" cy="233.3" r="2.1" fill="none" stroke="#fff" stroke-width="1.5"/>
<circle cx="836.8" cy="233.3" r="3.3" fill="none" stroke="#fff" stroke-width="1.3" stroke-dasharray="1.3 1.29"/>
<text x="850" y="236.8" fill="#FFF6D5" stroke="#FFF6D5" stroke-width=".28">if</text>
<text x="831" y="261.3" fill="#FFF6D5" stroke="#FFF6D5" stroke-width=".28">then</text>
<path d="M879,228.2 c0,6.6 -5.3,-5.3 -5.3,4.9 s5.3,-1.6 5.3,4.9 z" fill="#43A047"/>
<path d="M874.3,230.2 q-2.2,3 0,6.5" stroke="#AAD4AC" fill="none" stroke-width="1"/>
<rect x="878.5" y="225" width="181" height="23.3" rx="1.5" fill="#43A047"/>
<path d="M879,246.8 V227 Q879,225.5 880.5,225.5 H1058.5" stroke="#97CA99" fill="none" stroke-width="1"/>
<path d="M890.5,232.6 c0,6.6 -5.3,-5.3 -5.3,4.9 s5.3,-1.6 5.3,4.9 z" fill="#F4511E"/>
<path d="M885.8,234.6 q-2.2,3 0,6.5" stroke="#FAB099" fill="none" stroke-width="1"/>
<rect x="890" y="229.4" width="62.3" height="15.7" rx="1.5" fill="#F4511E"/>
<path d="M890.5,243.6 V231.4 Q890.5,229.9 892,229.9 H951.3" stroke="#F89F83" fill="none" stroke-width="1"/>
<text x="898.3" y="240.9" fill="#fff" stroke="#fff" stroke-width=".28">get</text>
<rect x="915" y="231.9" width="34.1" height="11" rx="3" fill="#FFCDBD"/>
<text x="918.7" y="240.9" fill="#111" stroke="#111" stroke-width=".1">title</text>
<path d="M940.7,236.1 h3.8 l-1.9,3 z" fill="#F0764C"/>
<rect x="955.5" y="231.9" width="23.3" height="11" rx="3" fill="#A9D9AB"/>
<text x="959.2" y="240.9" fill="#111" stroke="#111" stroke-width=".1">=</text>
<path d="M970.4,236.1 h3.8 l-1.9,3 z" fill="#5E9C61"/>
<path d="M987.8,232.6 c0,6.6 -5.3,-5.3 -5.3,4.9 s5.3,-1.6 5.3,4.9 z" fill="#D81B60"/>
<path d="M983.1,234.6 q-2.2,3 0,6.5" stroke="#ED98B7" fill="none" stroke-width="1"/>
<rect x="987.3" y="229.4" width="65.2" height="15.7" rx="1.5" fill="#D81B60"/>
<path d="M987.8,243.6 V231.4 Q987.8,229.9 989.3,229.9 H1051.5" stroke="#E981A7" fill="none" stroke-width="1"/>
<text x="994.9" y="239.6" fill="#fff" stroke="#fff" stroke-width=".28" font-size="8.5">“</text>
<text x="1042.5" y="239.6" fill="#fff" stroke="#fff" stroke-width=".28" font-size="8.5">”</text>
<rect x="1001.4" y="232.15" width="36.9" height="10.5" rx="3" fill="#F4A9C4"/>
<text x="1005.6" y="240.9" fill="#111" stroke="#111" stroke-width=".1">HOME</text>
<rect x="858" y="250.2" width="137.5" height="33.5" rx="3" fill="#5C37B1"/>
<path d="M858.5,280.7 V253.7 Q858.5,250.7 861.5,250.7 H994.5" stroke="#A591D4" fill="none" stroke-width="1"/>
<path d="M867,250.7 l4.3,3.6 h3.8 l4.3,-3.6" stroke="#A591D4" fill="none" stroke-width="1"/>
<path d="M857.8,250 h4.7 a4.5,4.5 0 0 0 -4.5,4.5 v-4.5 z" fill="#FFB300"/>
<text x="865" y="261.9" fill="#fff" stroke="#fff" stroke-width=".28">call</text>
<rect x="886" y="252.9" width="66" height="11" rx="3" fill="#C3B3E6"/>
<text x="889.7" y="261.9" fill="#111" stroke="#111" stroke-width=".1">Snackbar1</text>
<path d="M943.6,257.1 h3.8 l-1.9,3 z" fill="#5C37B1"/>
<text x="955.5" y="261.9" fill="#fff" stroke="#fff" stroke-width=".28">.Show</text>
<text x="983" y="279.1" fill="#fff" stroke="#fff" stroke-width=".28" text-anchor="end">message</text>
<path d="M996,271 c0,6.6 -5.3,-5.3 -5.3,4.9 s5.3,-1.6 5.3,4.9 z" fill="#F4511E"/>
<path d="M991.3,273 q-2.2,3 0,6.5" stroke="#FAB099" fill="none" stroke-width="1"/>
<rect x="995.5" y="267.8" width="62" height="15.7" rx="1.5" fill="#F4511E"/>
<path d="M996,282 V269.8 Q996,268.3 997.5,268.3 H1056.5" stroke="#F89F83" fill="none" stroke-width="1"/>
<text x="1003.8" y="279.3" fill="#fff" stroke="#fff" stroke-width=".28">get</text>
<rect x="1020.8" y="270.3" width="33.5" height="11" rx="3" fill="#FFCDBD"/>
<text x="1024.5" y="279.3" fill="#111" stroke="#111" stroke-width=".1">title</text>
<path d="M1045.9,274.5 h3.8 l-1.9,3 z" fill="#F0764C"/>
<rect x="858" y="284" width="176" height="17.3" rx="2" fill="#FFB300"/>
<path d="M858.5,300 V284.5 H1033" stroke="#FFD97F" fill="none"/>
<text x="865.5" y="296.7" fill="#FFF6D5" stroke="#FFF6D5" stroke-width=".28">open another screen</text>
<text x="963.8" y="296.7" fill="#FFF6D5" stroke="#FFF6D5" stroke-width=".28">screenName</text>
<path d="M1034,287.9 c0,6.6 -5.3,-5.3 -5.3,4.9 s5.3,-1.6 5.3,4.9 z" fill="#B5484B"/>
<path d="M1029.3,289.9 q-2.2,3 0,6.5" stroke="#DDACAE" fill="none" stroke-width="1"/>
<rect x="1033.5" y="284.7" width="62" height="16.1" rx="1.5" fill="#B5484B"/>
<path d="M1034,299.3 V286.7 Q1034,285.2 1035.5,285.2 H1094.5" stroke="#D69A9C" fill="none" stroke-width="1"/>
<rect x="1037" y="287.3" width="54.5" height="11" rx="3" fill="#EDB5B5"/>
<text x="1040.7" y="296.3" fill="#111" stroke="#111" stroke-width=".1">Screen1</text>
<path d="M1083.1,291.5 h3.8 l-1.9,3 z" fill="#8E3A3C"/>
<path d="M824.5,312.7 a3,3 0 0 1 3,-3 H878 V334.7 H858 V387.2 H878 V394.5 H827.5 a3,3 0 0 1 -3,-3 Z" fill="#FFB300"/>
<path d="M825,385.7 V311.7 Q825,310.2 826.5,310.2 H877" stroke="#FFD572" fill="none" stroke-width="1"/>
<path d="M833.5,310.2 l4.3,3.6 h3.8 l4.3,-3.6" stroke="#FFD572" fill="none" stroke-width="1"/>
<rect x="831.2" y="313.1" width="11.2" height="10.8" rx="2.2" fill="#5F45B0" stroke="#9786CB" stroke-width=".8"/>
<circle cx="836.8" cy="318.5" r="2.1" fill="none" stroke="#fff" stroke-width="1.5"/>
<circle cx="836.8" cy="318.5" r="3.3" fill="none" stroke="#fff" stroke-width="1.3" stroke-dasharray="1.3 1.29"/>
<text x="850" y="322" fill="#FFF6D5" stroke="#FFF6D5" stroke-width=".28">if</text>
<text x="831" y="346.5" fill="#FFF6D5" stroke="#FFF6D5" stroke-width=".28">then</text>
<path d="M879,313.4 c0,6.6 -5.3,-5.3 -5.3,4.9 s5.3,-1.6 5.3,4.9 z" fill="#43A047"/>
<path d="M874.3,315.4 q-2.2,3 0,6.5" stroke="#AAD4AC" fill="none" stroke-width="1"/>
<rect x="878.5" y="310.2" width="185" height="23.3" rx="1.5" fill="#43A047"/>
<path d="M879,332 V312.2 Q879,310.7 880.5,310.7 H1062.5" stroke="#97CA99" fill="none" stroke-width="1"/>
<path d="M890.5,317.8 c0,6.6 -5.3,-5.3 -5.3,4.9 s5.3,-1.6 5.3,4.9 z" fill="#F4511E"/>
<path d="M885.8,319.8 q-2.2,3 0,6.5" stroke="#FAB099" fill="none" stroke-width="1"/>
<rect x="890" y="314.6" width="62.3" height="15.7" rx="1.5" fill="#F4511E"/>
<path d="M890.5,328.8 V316.6 Q890.5,315.1 892,315.1 H951.3" stroke="#F89F83" fill="none" stroke-width="1"/>
<text x="898.3" y="326.1" fill="#fff" stroke="#fff" stroke-width=".28">get</text>
<rect x="915" y="317.1" width="34.1" height="11" rx="3" fill="#FFCDBD"/>
<text x="918.7" y="326.1" fill="#111" stroke="#111" stroke-width=".1">title</text>
<path d="M940.7,321.3 h3.8 l-1.9,3 z" fill="#F0764C"/>
<rect x="955.5" y="317.1" width="23.3" height="11" rx="3" fill="#A9D9AB"/>
<text x="959.2" y="326.1" fill="#111" stroke="#111" stroke-width=".1">=</text>
<path d="M970.4,321.3 h3.8 l-1.9,3 z" fill="#5E9C61"/>
<path d="M987.8,317.8 c0,6.6 -5.3,-5.3 -5.3,4.9 s5.3,-1.6 5.3,4.9 z" fill="#D81B60"/>
<path d="M983.1,319.8 q-2.2,3 0,6.5" stroke="#ED98B7" fill="none" stroke-width="1"/>
<rect x="987.3" y="314.6" width="69.4" height="15.7" rx="1.5" fill="#D81B60"/>
<path d="M987.8,328.8 V316.6 Q987.8,315.1 989.3,315.1 H1055.7" stroke="#E981A7" fill="none" stroke-width="1"/>
<text x="994.9" y="324.8" fill="#fff" stroke="#fff" stroke-width=".28" font-size="8.5">“</text>
<text x="1046.7" y="324.8" fill="#fff" stroke="#fff" stroke-width=".28" font-size="8.5">”</text>
<rect x="1001.4" y="317.35" width="41.1" height="10.5" rx="3" fill="#F4A9C4"/>
<text x="1005.6" y="326.1" fill="#111" stroke="#111" stroke-width=".1">ABOUT</text>
<rect x="858" y="335.4" width="137.5" height="33.5" rx="3" fill="#5C37B1"/>
<path d="M858.5,365.9 V338.9 Q858.5,335.9 861.5,335.9 H994.5" stroke="#A591D4" fill="none" stroke-width="1"/>
<path d="M867,335.9 l4.3,3.6 h3.8 l4.3,-3.6" stroke="#A591D4" fill="none" stroke-width="1"/>
<path d="M857.8,335.2 h4.7 a4.5,4.5 0 0 0 -4.5,4.5 v-4.5 z" fill="#FFB300"/>
<text x="865" y="347.1" fill="#fff" stroke="#fff" stroke-width=".28">call</text>
<rect x="886" y="338.1" width="66" height="11" rx="3" fill="#C3B3E6"/>
<text x="889.7" y="347.1" fill="#111" stroke="#111" stroke-width=".1">Snackbar1</text>
<path d="M943.6,342.3 h3.8 l-1.9,3 z" fill="#5C37B1"/>
<text x="955.5" y="347.1" fill="#fff" stroke="#fff" stroke-width=".28">.Show</text>
<text x="983" y="364.3" fill="#fff" stroke="#fff" stroke-width=".28" text-anchor="end">message</text>
<path d="M996,356.2 c0,6.6 -5.3,-5.3 -5.3,4.9 s5.3,-1.6 5.3,4.9 z" fill="#F4511E"/>
<path d="M991.3,358.2 q-2.2,3 0,6.5" stroke="#FAB099" fill="none" stroke-width="1"/>
<rect x="995.5" y="353" width="62" height="15.7" rx="1.5" fill="#F4511E"/>
<path d="M996,367.2 V355 Q996,353.5 997.5,353.5 H1056.5" stroke="#F89F83" fill="none" stroke-width="1"/>
<text x="1003.8" y="364.5" fill="#fff" stroke="#fff" stroke-width=".28">get</text>
<rect x="1020.8" y="355.5" width="33.5" height="11" rx="3" fill="#FFCDBD"/>
<text x="1024.5" y="364.5" fill="#111" stroke="#111" stroke-width=".1">title</text>
<path d="M1045.9,359.7 h3.8 l-1.9,3 z" fill="#F0764C"/>
<rect x="858" y="369.2" width="176" height="17.3" rx="2" fill="#FFB300"/>
<path d="M858.5,385.2 V369.7 H1033" stroke="#FFD97F" fill="none"/>
<text x="865.5" y="381.9" fill="#FFF6D5" stroke="#FFF6D5" stroke-width=".28">open another screen</text>
<text x="963.8" y="381.9" fill="#FFF6D5" stroke="#FFF6D5" stroke-width=".28">screenName</text>
<path d="M1034,373.1 c0,6.6 -5.3,-5.3 -5.3,4.9 s5.3,-1.6 5.3,4.9 z" fill="#B5484B"/>
<path d="M1029.3,375.1 q-2.2,3 0,6.5" stroke="#DDACAE" fill="none" stroke-width="1"/>
<rect x="1033.5" y="369.9" width="59" height="16.1" rx="1.5" fill="#B5484B"/>
<path d="M1034,384.5 V371.9 Q1034,370.4 1035.5,370.4 H1091.5" stroke="#D69A9C" fill="none" stroke-width="1"/>
<rect x="1037" y="372.5" width="51.5" height="11" rx="3" fill="#EDB5B5"/>
<text x="1040.7" y="381.5" fill="#111" stroke="#111" stroke-width=".1">ABOUT</text>
<path d="M1080.1,376.7 h3.8 l-1.9,3 z" fill="#8E3A3C"/>
<path d="M834,224 l4,3.3 h3.4 l4,-3.3 z" fill="#FEA62B"/>
<path d="M867.5,283.2 l4,3.3 h3.4 l4,-3.3 z" fill="#5C37B1"/>
<path d="M867.5,249.7 l4,3.3 h3.4 l4,-3.3 z" fill="#FFB300"/>
<path d="M834,309.2 l4,3.3 h3.4 l4,-3.3 z" fill="#FFB300"/>
<path d="M834,394 l4,3.3 h3.4 l4,-3.3 z" fill="#FFB300"/>
<path d="M867.5,368.4 l4,3.3 h3.4 l4,-3.3 z" fill="#5C37B1"/>
<path d="M867.5,334.9 l4,3.3 h3.4 l4,-3.3 z" fill="#FFB300"/>
<path d="M772.5,412.8 a4,4 0 0 1 4,-4 H1077.5 V443 H797.5 V660 H772.5 Z" fill="#FEA62B"/>
<path d="M773,658.5 V410.8 Q773,409.3 774.5,409.3 H1076.5" stroke="#FECE8A" fill="none" stroke-width="1"/>
<text x="779.3" y="420.3" fill="#FFF6D5" stroke="#FFF6D5" stroke-width=".28">when</text>
<rect x="809.5" y="411.3" width="43" height="11" rx="3" fill="#FFE3B8"/>
<text x="813.2" y="420.3" fill="#111" stroke="#111" stroke-width=".1">Web1</text>
<path d="M844.1,415.5 h3.8 l-1.9,3 z" fill="#F7C377"/>
<text x="857" y="420.3" fill="#FFF6D5" stroke="#FFF6D5" stroke-width=".28">.Got Text</text>
<rect x="786.3" y="428.55" width="16.2" height="10.5" rx="3" fill="#EE9F7C"/>
<text x="789.6" y="437.3" fill="#111" stroke="#111" stroke-width=".1">url</text>
<rect x="814.5" y="428.55" width="71.8" height="10.5" rx="3" fill="#EE9F7C"/>
<text x="817.8" y="437.3" fill="#111" stroke="#111" stroke-width=".1">response Code</text>
<rect x="898.3" y="428.55" width="69.2" height="10.5" rx="3" fill="#EE9F7C"/>
<text x="901.6" y="437.3" fill="#111" stroke="#111" stroke-width=".1">response Type</text>
<rect x="980" y="428.55" width="83" height="10.5" rx="3" fill="#EE9F7C"/>
<text x="983.3" y="437.3" fill="#111" stroke="#111" stroke-width=".1">response Content</text>
<text x="779.3" y="454.8" fill="#FFF6D5" stroke="#FFF6D5" stroke-width=".28">do</text>
<rect x="797.5" y="443" width="133" height="17.5" rx="1.5" fill="#F4511E"/>
<path d="M798,459 V445 Q798,443.5 799.5,443.5 H929.5" stroke="#F89F83" fill="none" stroke-width="1"/>
<path d="M806.5,443.5 l4.3,3.6 h3.8 l4.3,-3.6" stroke="#F89F83" fill="none" stroke-width="1"/>
<path d="M797.3,442.8 h4.7 a4.5,4.5 0 0 0 -4.5,4.5 v-4.5 z" fill="#FEA62B"/>
<text x="804.5" y="455.3" fill="#fff" stroke="#fff" stroke-width=".28">set</text>
<rect x="821.3" y="446.3" width="88.2" height="11" rx="3" fill="#FFCDBD"/>
<text x="825" y="455.3" fill="#111" stroke="#111" stroke-width=".1">global order_list</text>
<path d="M901.1,450.5 h3.8 l-1.9,3 z" fill="#F0764C"/>
<text x="912.5" y="455.3" fill="#fff" stroke="#fff" stroke-width=".28">to</text>
<path d="M934.5,446.9 c0,6.6 -5.3,-5.3 -5.3,4.9 s5.3,-1.6 5.3,4.9 z" fill="#049BE5"/>
<path d="M929.8,448.9 q-2.2,3 0,6.5" stroke="#8ED2F3" fill="none" stroke-width="1"/>
<rect x="934" y="443.7" width="119.7" height="16.3" rx="1.5" fill="#049BE5"/>
<path d="M934.5,458.5 V445.7 Q934.5,444.2 936,444.2 H1052.7" stroke="#74C8F0" fill="none" stroke-width="1"/>
<text x="941.3" y="455.3" fill="#fff" stroke="#fff" stroke-width=".28">list from csv table</text>
<text x="1025.5" y="455.3" fill="#fff" stroke="#fff" stroke-width=".28">text</text>
<path d="M1054.7,446.9 c0,6.6 -5.3,-5.3 -5.3,4.9 s5.3,-1.6 5.3,4.9 z" fill="#F4511E"/>
<path d="M1050,448.9 q-2.2,3 0,6.5" stroke="#FAB099" fill="none" stroke-width="1"/>
<rect x="1054.2" y="443.7" width="125" height="15.7" rx="1.5" fill="#F4511E"/>
<path d="M1054.7,457.9 V445.7 Q1054.7,444.2 1056.2,444.2 H1178.2" stroke="#F89F83" fill="none" stroke-width="1"/>
<text x="1062.5" y="455.2" fill="#fff" stroke="#fff" stroke-width=".28">get</text>
<rect x="1079.6" y="446.2" width="96.4" height="11" rx="3" fill="#FFCDBD"/>
<text x="1083.3" y="455.2" fill="#111" stroke="#111" stroke-width=".1">response Content</text>
<path d="M1167.6,450.4 h3.8 l-1.9,3 z" fill="#F0764C"/>
<rect x="797.5" y="460.5" width="106.5" height="35.5" rx="1.5" fill="#049BE5"/>
<path d="M798,494.5 V462.5 Q798,461 799.5,461 H903" stroke="#74C8F0" fill="none" stroke-width="1"/>
<path d="M806.5,461 l4.3,3.6 h3.8 l4.3,-3.6" stroke="#74C8F0" fill="none" stroke-width="1"/>
<text x="804.5" y="473" fill="#fff" stroke="#fff" stroke-width=".28">remove list item</text>
<text x="880" y="473" fill="#fff" stroke="#fff" stroke-width=".28">list</text>
<text x="892.5" y="491" fill="#fff" stroke="#fff" stroke-width=".28" text-anchor="end">index</text>
<path d="M904.5,465 c0,6.6 -5.3,-5.3 -5.3,4.9 s5.3,-1.6 5.3,4.9 z" fill="#F4511E"/>
<path d="M899.8,467 q-2.2,3 0,6.5" stroke="#FAB099" fill="none" stroke-width="1"/>
<rect x="904" y="461.8" width="116.5" height="15.7" rx="1.5" fill="#F4511E"/>
<path d="M904.5,476 V463.8 Q904.5,462.3 906,462.3 H1019.5" stroke="#F89F83" fill="none" stroke-width="1"/>
<text x="912.3" y="473.3" fill="#fff" stroke="#fff" stroke-width=".28">get</text>
<rect x="928.8" y="464.3" width="88.5" height="11" rx="3" fill="#FFCDBD"/>
<text x="932.5" y="473.3" fill="#111" stroke="#111" stroke-width=".1">global order_list</text>
<path d="M1008.9,468.5 h3.8 l-1.9,3 z" fill="#F0764C"/>
<path d="M904.5,483.1 c0,6.6 -5.3,-5.3 -5.3,4.9 s5.3,-1.6 5.3,4.9 z" fill="#3F51B5"/>
<path d="M899.8,485.1 q-2.2,3 0,6.5" stroke="#A8B0DD" fill="none" stroke-width="1"/>
<rect x="904" y="479.9" width="19.5" height="15.4" rx="1.5" fill="#3F51B5"/>
<path d="M904.5,493.8 V481.9 Q904.5,480.4 906,480.4 H922.5" stroke="#959FD6" fill="none" stroke-width="1"/>
<rect x="907.5" y="482.35" width="12.2" height="10.5" rx="3" fill="#B4BBE6"/>
<text x="913.6" y="491.1" fill="#111" stroke="#111" stroke-width=".1" text-anchor="middle">1</text>
<path d="M797.5,496 H952.5 V514 H819.5 V660 H797.5 Z" fill="#F4511E"/>
<path d="M798,658.5 V498 Q798,496.5 799.5,496.5 H951.5" stroke="#F89F83" fill="none" stroke-width="1"/>
<path d="M806.5,496.5 l4.3,3.6 h3.8 l4.3,-3.6" stroke="#F89F83" fill="none" stroke-width="1"/>
<rect x="804.3" y="499.3" width="11.2" height="10.8" rx="2.2" fill="#8E24AA" stroke="#B570C7" stroke-width=".8"/>
<circle cx="809.9" cy="504.7" r="2.1" fill="none" stroke="#fff" stroke-width="1.5"/>
<circle cx="809.9" cy="504.7" r="3.3" fill="none" stroke="#fff" stroke-width="1.3" stroke-dasharray="1.3 1.29"/>
<text x="822.5" y="508" fill="#fff" stroke="#fff" stroke-width=".28">initialize local</text>
<rect x="885.5" y="499" width="44.5" height="11" rx="3" fill="#EF9B78"/>
<text x="889" y="508" fill="#111" stroke="#111" stroke-width=".1">list_view</text>
<text x="933" y="508" fill="#fff" stroke="#fff" stroke-width=".28">to</text>
<path d="M954.5,499.4 c0,6.6 -5.3,-5.3 -5.3,4.9 s5.3,-1.6 5.3,4.9 z" fill="#049BE5"/>
<path d="M949.8,501.4 q-2.2,3 0,6.5" stroke="#8ED2F3" fill="none" stroke-width="1"/>
<rect x="954" y="496.2" width="105.8" height="16.8" rx="1.5" fill="#049BE5"/>
<path d="M954.5,511.5 V498.2 Q954.5,496.7 956,496.7 H1058.8" stroke="#74C8F0" fill="none" stroke-width="1"/>
<rect x="961.3" y="499.3" width="11.2" height="10.8" rx="2.2" fill="#1E6BE6" stroke="#6C9EEE" stroke-width=".8"/>
<circle cx="966.9" cy="504.7" r="2.1" fill="none" stroke="#fff" stroke-width="1.5"/>
<circle cx="966.9" cy="504.7" r="3.3" fill="none" stroke="#fff" stroke-width="1.3" stroke-dasharray="1.3 1.29"/>
<text x="980.8" y="508" fill="#fff" stroke="#fff" stroke-width=".28">create empty list</text>
<text x="804.5" y="525.5" fill="#fff" stroke="#fff" stroke-width=".28">in</text>
<path d="M819.5,517 a3,3 0 0 1 3,-3 H930.5 V532 H845 V660 H819.5 Z" fill="#FFB300"/>
<path d="M820,658.5 V516 Q820,514.5 821.5,514.5 H929.5" stroke="#FFD572" fill="none" stroke-width="1"/>
<path d="M828.5,514.5 l4.3,3.6 h3.8 l4.3,-3.6" stroke="#FFD572" fill="none" stroke-width="1"/>
<text x="825.8" y="526" fill="#FFF6D5" stroke="#FFF6D5" stroke-width=".28">for each</text>
<rect x="867" y="517" width="23" height="11" rx="3" fill="#E2A473"/>
<text x="870.5" y="526" fill="#111" stroke="#111" stroke-width=".1">item</text>
<text x="895" y="526" fill="#FFF6D5" stroke="#FFF6D5" stroke-width=".28">in list</text>
<path d="M931,518 c0,6.6 -5.3,-5.3 -5.3,4.9 s5.3,-1.6 5.3,4.9 z" fill="#F4511E"/>
<path d="M926.3,520 q-2.2,3 0,6.5" stroke="#FAB099" fill="none" stroke-width="1"/>
<rect x="930.5" y="514.8" width="116.3" height="15.7" rx="1.5" fill="#F4511E"/>
<path d="M931,529 V516.8 Q931,515.3 932.5,515.3 H1045.8" stroke="#F89F83" fill="none" stroke-width="1"/>
<text x="938.8" y="526.3" fill="#fff" stroke="#fff" stroke-width=".28">get</text>
<rect x="955" y="517.3" width="88.6" height="11" rx="3" fill="#FFCDBD"/>
<text x="958.7" y="526.3" fill="#111" stroke="#111" stroke-width=".1">global order_list</text>
<path d="M1035.2,521.5 h3.8 l-1.9,3 z" fill="#F0764C"/>
<text x="825.8" y="543" fill="#FFF6D5" stroke="#FFF6D5" stroke-width=".28">do</text>
<path d="M845,535 a3,3 0 0 1 3,-3 H974 V660 H845 Z" fill="#049BE5"/>
<path d="M845.5,658.5 V534 Q845.5,532.5 847,532.5 H973" stroke="#74C8F0" fill="none" stroke-width="1"/>
<path d="M854,532.5 l4.3,3.6 h3.8 l4.3,-3.6" stroke="#74C8F0" fill="none" stroke-width="1"/>
<rect x="851.8" y="535.2" width="11.2" height="10.8" rx="2.2" fill="#1E5BE6" stroke="#6C94EE" stroke-width=".8"/>
<circle cx="857.4" cy="540.6" r="2.1" fill="none" stroke="#fff" stroke-width="1.5"/>
<circle cx="857.4" cy="540.6" r="3.3" fill="none" stroke="#fff" stroke-width="1.3" stroke-dasharray="1.3 1.29"/>
<text x="870.8" y="544" fill="#fff" stroke="#fff" stroke-width=".28">add items to list</text>
<text x="949.5" y="544" fill="#fff" stroke="#fff" stroke-width=".28">list</text>
<text x="962" y="561.5" fill="#fff" stroke="#fff" stroke-width=".28" text-anchor="end">item</text>
<path d="M974.5,535.5 c0,6.6 -5.3,-5.3 -5.3,4.9 s5.3,-1.6 5.3,4.9 z" fill="#F4511E"/>
<path d="M969.8,537.5 q-2.2,3 0,6.5" stroke="#FAB099" fill="none" stroke-width="1"/>
<rect x="974" y="532.3" width="83.8" height="15.7" rx="1.5" fill="#F4511E"/>
<path d="M974.5,546.5 V534.3 Q974.5,532.8 976,532.8 H1056.8" stroke="#F89F83" fill="none" stroke-width="1"/>
<text x="982.3" y="543.8" fill="#fff" stroke="#fff" stroke-width=".28">get</text>
<rect x="999" y="534.8" width="55.6" height="11" rx="3" fill="#FFCDBD"/>
<text x="1002.7" y="543.8" fill="#111" stroke="#111" stroke-width=".1">list_view</text>
<path d="M1046.2,539 h3.8 l-1.9,3 z" fill="#F0764C"/>
<path d="M974.5,553.2 c0,6.6 -5.3,-5.3 -5.3,4.9 s5.3,-1.6 5.3,4.9 z" fill="#D81B60"/>
<path d="M969.8,555.2 q-2.2,3 0,6.5" stroke="#ED98B7" fill="none" stroke-width="1"/>
<rect x="974" y="550" width="54" height="110" rx="1.5" fill="#D81B60"/>
<path d="M974.5,658.5 V552 Q974.5,550.5 976,550.5 H1027" stroke="#E981A7" fill="none" stroke-width="1"/>
<rect x="981.5" y="553.6" width="11.2" height="10.8" rx="2.2" fill="#6A3AC0" stroke="#9E7ED6" stroke-width=".8"/>
<circle cx="987.1" cy="559" r="2.1" fill="none" stroke="#fff" stroke-width="1.5"/>
<circle cx="987.1" cy="559" r="3.3" fill="none" stroke="#fff" stroke-width="1.3" stroke-dasharray="1.3 1.29"/>
<text x="999.8" y="562.3" fill="#fff" stroke="#fff" stroke-width=".28">join</text>
<path d="M1028.5,553.2 c0,6.6 -5.3,-5.3 -5.3,4.9 s5.3,-1.6 5.3,4.9 z" fill="#049BE5"/>
<path d="M1023.8,555.2 q-2.2,3 0,6.5" stroke="#8ED2F3" fill="none" stroke-width="1"/>
<rect x="1028" y="550" width="100.5" height="34.2" rx="1.5" fill="#049BE5"/>
<path d="M1028.5,582.7 V552 Q1028.5,550.5 1030,550.5 H1127.5" stroke="#74C8F0" fill="none" stroke-width="1"/>
<text x="1035.5" y="562.3" fill="#fff" stroke="#fff" stroke-width=".28">select list item</text>
<text x="1104" y="562.3" fill="#fff" stroke="#fff" stroke-width=".28">list</text>
<text x="1116.5" y="579.1" fill="#fff" stroke="#fff" stroke-width=".28" text-anchor="end">index</text>
<path d="M1129,553.2 c0,6.6 -5.3,-5.3 -5.3,4.9 s5.3,-1.6 5.3,4.9 z" fill="#F4511E"/>
<path d="M1124.3,555.2 q-2.2,3 0,6.5" stroke="#FAB099" fill="none" stroke-width="1"/>
<rect x="1128.5" y="550" width="65" height="15.7" rx="1.5" fill="#F4511E"/>
<path d="M1129,564.2 V552 Q1129,550.5 1130.5,550.5 H1192.5" stroke="#F89F83" fill="none" stroke-width="1"/>
<text x="1136.8" y="561.5" fill="#fff" stroke="#fff" stroke-width=".28">get</text>
<rect x="1153" y="552.5" width="37.3" height="11" rx="3" fill="#FFCDBD"/>
<text x="1156.7" y="561.5" fill="#111" stroke="#111" stroke-width=".1">item</text>
<path d="M1181.9,556.7 h3.8 l-1.9,3 z" fill="#F0764C"/>
<path d="M1128.8,571.3 c0,6.6 -5.3,-5.3 -5.3,4.9 s5.3,-1.6 5.3,4.9 z" fill="#3F51B5"/>
<path d="M1124.1,573.3 q-2.2,3 0,6.5" stroke="#A8B0DD" fill="none" stroke-width="1"/>
<rect x="1128.3" y="568.1" width="19.5" height="15.4" rx="1.5" fill="#3F51B5"/>
<path d="M1128.8,582 V570.1 Q1128.8,568.6 1130.3,568.6 H1146.8" stroke="#959FD6" fill="none" stroke-width="1"/>
<rect x="1131.8" y="570.55" width="12.2" height="10.5" rx="3" fill="#B4BBE6"/>
<text x="1137.9" y="579.3" fill="#111" stroke="#111" stroke-width=".1" text-anchor="middle">1</text>
<path d="M1028.5,588.5 c0,6.6 -5.3,-5.3 -5.3,4.9 s5.3,-1.6 5.3,4.9 z" fill="#D81B60"/>
<path d="M1023.8,590.5 q-2.2,3 0,6.5" stroke="#ED98B7" fill="none" stroke-width="1"/>
<rect x="1028" y="585.3" width="42.5" height="15.7" rx="1.5" fill="#D81B60"/>
<path d="M1028.5,599.5 V587.3 Q1028.5,585.8 1030,585.8 H1069.5" stroke="#E981A7" fill="none" stroke-width="1"/>
<text x="1035.6" y="595.5" fill="#fff" stroke="#fff" stroke-width=".28" font-size="8.5">“</text>
<text x="1060.5" y="595.5" fill="#fff" stroke="#fff" stroke-width=".28" font-size="8.5">”</text>
<rect x="1042.3" y="588.05" width="15" height="10.5" rx="3" fill="#F4A9C4"/>
<rect x="1049.3" y="589.3" width="1" height="8.4" fill="#222"/>
<path d="M1028.5,606.2 c0,6.6 -5.3,-5.3 -5.3,4.9 s5.3,-1.6 5.3,4.9 z" fill="#049BE5"/>
<path d="M1023.8,608.2 q-2.2,3 0,6.5" stroke="#8ED2F3" fill="none" stroke-width="1"/>
<rect x="1028" y="603" width="100.5" height="34.2" rx="1.5" fill="#049BE5"/>
<path d="M1028.5,635.7 V605 Q1028.5,603.5 1030,603.5 H1127.5" stroke="#74C8F0" fill="none" stroke-width="1"/>
<text x="1035.5" y="615.3" fill="#fff" stroke="#fff" stroke-width=".28">select list item</text>
<text x="1104" y="615.3" fill="#fff" stroke="#fff" stroke-width=".28">list</text>
<text x="1116.5" y="632.1" fill="#fff" stroke="#fff" stroke-width=".28" text-anchor="end">index</text>
<path d="M1129,606.2 c0,6.6 -5.3,-5.3 -5.3,4.9 s5.3,-1.6 5.3,4.9 z" fill="#F4511E"/>
<path d="M1124.3,608.2 q-2.2,3 0,6.5" stroke="#FAB099" fill="none" stroke-width="1"/>
<rect x="1128.5" y="603" width="65" height="15.7" rx="1.5" fill="#F4511E"/>
<path d="M1129,617.2 V605 Q1129,603.5 1130.5,603.5 H1192.5" stroke="#F89F83" fill="none" stroke-width="1"/>
<text x="1136.8" y="614.5" fill="#fff" stroke="#fff" stroke-width=".28">get</text>
<rect x="1153" y="605.5" width="37.3" height="11" rx="3" fill="#FFCDBD"/>
<text x="1156.7" y="614.5" fill="#111" stroke="#111" stroke-width=".1">item</text>
<path d="M1181.9,609.7 h3.8 l-1.9,3 z" fill="#F0764C"/>
<path d="M1128.8,624.3 c0,6.6 -5.3,-5.3 -5.3,4.9 s5.3,-1.6 5.3,4.9 z" fill="#3F51B5"/>
<path d="M1124.1,626.3 q-2.2,3 0,6.5" stroke="#A8B0DD" fill="none" stroke-width="1"/>
<rect x="1128.3" y="621.1" width="19.5" height="15.4" rx="1.5" fill="#3F51B5"/>
<path d="M1128.8,635 V623.1 Q1128.8,621.6 1130.3,621.6 H1146.8" stroke="#959FD6" fill="none" stroke-width="1"/>
<rect x="1131.8" y="623.55" width="12.2" height="10.5" rx="3" fill="#B4BBE6"/>
<text x="1137.9" y="632.3" fill="#111" stroke="#111" stroke-width=".1" text-anchor="middle">2</text>
<path d="M1028.5,641.5 c0,6.6 -5.3,-5.3 -5.3,4.9 s5.3,-1.6 5.3,4.9 z" fill="#D81B60"/>
<path d="M1023.8,643.5 q-2.2,3 0,6.5" stroke="#ED98B7" fill="none" stroke-width="1"/>
<rect x="1028" y="638.3" width="42.5" height="15.7" rx="1.5" fill="#D81B60"/>
<path d="M1028.5,652.5 V640.3 Q1028.5,638.8 1030,638.8 H1069.5" stroke="#E981A7" fill="none" stroke-width="1"/>
<text x="1035.6" y="648.5" fill="#fff" stroke="#fff" stroke-width=".28" font-size="8.5">“</text>
<text x="1060.5" y="648.5" fill="#fff" stroke="#fff" stroke-width=".28" font-size="8.5">”</text>
<rect x="1042.3" y="641.05" width="15" height="10.5" rx="3" fill="#F4A9C4"/>
<rect x="1049.3" y="642.3" width="1" height="8.4" fill="#222"/>
<path d="M807,442.5 l4,3.3 h3.4 l4,-3.3 z" fill="#FEA62B"/>
<path d="M807,460 l4,3.3 h3.4 l4,-3.3 z" fill="#F4511E"/>
<path d="M807,495.5 l4,3.3 h3.4 l4,-3.3 z" fill="#049BE5"/>
<path d="M829,513.5 l4,3.3 h3.4 l4,-3.3 z" fill="#F4511E"/>
<path d="M854.5,531.5 l4,3.3 h3.4 l4,-3.3 z" fill="#FFB300"/>
<rect x="475.300" y="640" width="438" height="10.300" rx="5" fill="#cbcbcb"/>
<polygon points="337.7,557.5 347.7,547 357.7,557.5" fill="#e6e6e6" stroke="#1a1a1a" stroke-width="1.500" stroke-linejoin="miter"/>
<polygon points="337.7,584.5 347.7,594.7 357.7,584.5" fill="#e6e6e6" stroke="#1a1a1a" stroke-width="1.500" stroke-linejoin="miter"/>
<polygon points="404.7,557.5 414.7,547 424.7,557.5" fill="#e6e6e6" stroke="#1a1a1a" stroke-width="1.500" stroke-linejoin="miter"/>
<polygon points="404.7,584.5 414.7,594.7 424.7,584.5" fill="#e6e6e6" stroke="#1a1a1a" stroke-width="1.500" stroke-linejoin="miter"/>
<path d="M346,563 L354.6,578.3 H337.4 Z" fill="#FBF6A3" stroke="#C9C56E" stroke-width="1" stroke-linejoin="round"/>
<rect x="345.3" y="567.5" width="1.6" height="5.6" fill="#555"/><rect x="345.3" y="574.3" width="1.6" height="1.7" fill="#555"/>
<text x="358" y="577" font-size="12" fill="#222" font-family='"DejaVu Sans", sans-serif'>1</text>
<circle cx="411" cy="571" r="8" fill="#E25F60" stroke="#D04A4C" stroke-width="1"/>
<path d="M407,567 l8,8 M415,567 l-8,8" stroke="#fff" stroke-width="2.6" stroke-linecap="round"/>
<text x="423" y="577" font-size="12" fill="#222" font-family='"DejaVu Sans", sans-serif'>1</text>
<rect x="322.800" y="598.200" width="120.400" height="19.800" fill="#efefef" stroke="#636363" stroke-width="1.900"/>
<text x="383" y="612.6" text-anchor="middle" font-size="12" fill="#222" font-family='"DejaVu Sans", sans-serif'>Show Warnings</text>
<path d="M1259.800,174.200 L1262,180.500 V174.200 z" fill="#222"/><path d="M1262,209.500 a1.800,4 0 0 0 0,8 z" fill="#222"/>
</svg>
</div>

<!-- taskbar -->
<div class="abs" id="task"></div>
<div class="abs" style="left:36px;top:656.800px;width:257.300px;height:8.200px;background:#383838;border-left:1px solid #5a5a5a;box-sizing:border-box"></div>
<div class="abs" style="left:370px;top:656.800px;width:36px;height:8.200px;background:#47535e"></div>
<svg class="abs" style="left:0;top:657px" width="1262" height="8" viewBox="0 657 1262 8">
<rect x="18.400" y="663.700" width="7.600" height="1.300" fill="#e0e0e0"/><circle cx="57" cy="666" r="3.500" fill="none" stroke="#ddd" stroke-width="1.200"/>
<rect x="254" y="662" width="7" height="3" fill="#d9902a"/><rect x="284" y="661.500" width="6" height="3.500" fill="#e8a13a"/>
<rect x="302" y="663" width="2" height="2" fill="#ddd"/><rect x="307" y="662" width="2" height="3" fill="#ddd"/><rect x="312" y="663" width="2" height="2" fill="#ddd"/>
<rect x="384" y="662.500" width="9" height="2.500" fill="#2ec4e6"/><rect x="421" y="663.500" width="6" height="1.500" fill="#e0b030"/><circle cx="462" cy="667" r="4" fill="#eee"/>
<rect x="490" y="662.500" width="16" height="2.500" fill="#d83b3b"/><rect x="531" y="663" width="13" height="2" fill="#2f6fc0"/><rect x="602" y="662.500" width="15" height="2.500" fill="#4a5cc0"/>
<rect x="640" y="663.500" width="12" height="1.500" fill="#16283c"/><rect x="676" y="662.500" width="14" height="2.500" fill="#1f7fe0"/><rect x="714" y="663" width="12" height="2" fill="#6f87a8"/><rect x="752" y="663" width="10" height="2" fill="#ccc"/>
<circle cx="868" cy="666.500" r="4" fill="#e23c3c"/><circle cx="1049" cy="668" r="9" fill="#5b2fc0"/><circle cx="1049" cy="664.500" r="1.600" fill="#eee"/><circle cx="1178" cy="667.500" r="4.500" fill="#eee"/>
</svg>
</body>
</html>
